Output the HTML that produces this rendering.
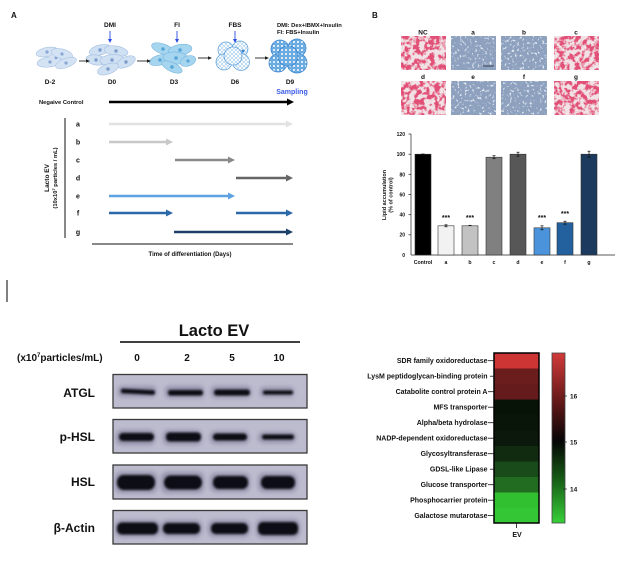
<!DOCTYPE html>
<html><head><meta charset="utf-8">
<style>
html,body{margin:0;padding:0;background:#fff;width:622px;height:574px;overflow:hidden}
svg{display:block}
text{font-family:"Liberation Sans",Arial,sans-serif;font-weight:bold;fill:#111}
</style></head>
<body>
<svg width="622" height="574" viewBox="0 0 622 574" xmlns="http://www.w3.org/2000/svg">
<defs>
  <filter id="redtex" x="0" y="0" width="1" height="1">
    <feTurbulence type="fractalNoise" baseFrequency="0.2" numOctaves="3" seed="4" result="n"/>
    <feColorMatrix in="n" type="matrix" values="0 0 0 0 0.76  0 0 0 0 0.08  0 0 0 0 0.18  6 0 0 0 -2.6"/>
    <feComposite in2="SourceGraphic" operator="in"/>
  </filter>
  <filter id="bluetex" x="0" y="0" width="1" height="1">
    <feTurbulence type="fractalNoise" baseFrequency="0.4" numOctaves="2" seed="9" result="n"/>
    <feColorMatrix in="n" type="matrix" values="0 0 0 0 0.9  0 0 0 0 0.92  0 0 0 0 0.97  5 0 0 0 -2.9"/>
    <feComposite in2="SourceGraphic" operator="in"/>
  </filter>
  <filter id="blur" x="-20%" y="-80%" width="140%" height="260%">
    <feGaussianBlur stdDeviation="1.1"/>
  </filter>
  <filter id="blur2" x="-20%" y="-80%" width="140%" height="260%">
    <feGaussianBlur stdDeviation="2.2"/>
  </filter>
  <pattern id="bub" width="4" height="4" patternUnits="userSpaceOnUse">
    <rect width="4" height="4" fill="#ffffff"/>
    <circle cx="2" cy="2" r="1.4" fill="#fff" stroke="#6aaae0" stroke-width="0.45"/>
  </pattern>
  <pattern id="bub2" width="4" height="4" patternUnits="userSpaceOnUse">
    <rect width="4" height="4" fill="#6aaee4"/>
    <circle cx="2" cy="2" r="1.35" fill="#f2f8fd" stroke="#4a92d6" stroke-width="0.4"/>
  </pattern>
  <linearGradient id="cbar" x1="0" y1="0" x2="0" y2="1">
    <stop offset="0" stop-color="#d23a3a"/>
    <stop offset="0.27" stop-color="#6a1a1a"/>
    <stop offset="0.52" stop-color="#050505"/>
    <stop offset="0.75" stop-color="#176017"/>
    <stop offset="1" stop-color="#38d038"/>
  </linearGradient>
</defs>

<!-- ================= PANEL A ================= -->
<text x="11" y="18" font-size="8">A</text>
<text x="110" y="27" font-size="6.5" text-anchor="middle">DMI</text>
<text x="177" y="27" font-size="6.5" text-anchor="middle">FI</text>
<text x="235" y="27" font-size="6.5" text-anchor="middle">FBS</text>
<text x="277" y="27" font-size="5.8">DMI: Dex+IBMX+Insulin</text>
<text x="277" y="34" font-size="5.8">FI: FBS+Insulin</text>
<g stroke="#2a4ae0" stroke-width="0.9" fill="#2a4ae0">
  <line x1="110" y1="31" x2="110" y2="40"/><polygon points="108,39 112,39 110,43" stroke="none"/>
  <line x1="177" y1="31" x2="177" y2="40"/><polygon points="175,39 179,39 177,43" stroke="none"/>
  <line x1="235" y1="31" x2="235" y2="40"/><polygon points="233,39 237,39 235,43" stroke="none"/>
</g>
<!-- D-2 cells -->
<g fill="#d3e3f4" stroke="#a9c3e2" stroke-width="0.6">
  <ellipse cx="47" cy="52" rx="11" ry="4.5" transform="rotate(-12 47 52)"/>
  <ellipse cx="62" cy="54" rx="11" ry="5" transform="rotate(15 62 54)"/>
  <ellipse cx="49" cy="62" rx="12" ry="5" transform="rotate(-8 49 62)"/>
  <ellipse cx="66" cy="63" rx="11" ry="4.5" transform="rotate(-20 66 63)"/>
</g>
<g fill="#8aa6d2"><circle cx="47" cy="52" r="1.6"/><circle cx="62" cy="54" r="1.6"/><circle cx="50" cy="62" r="1.6"/><circle cx="66" cy="63" r="1.6"/><circle cx="56" cy="58" r="1.4"/></g>
<!-- D0 cells -->
<g fill="#cfe0f3" stroke="#a3bfe0" stroke-width="0.6">
  <ellipse cx="100" cy="50" rx="11" ry="5" transform="rotate(-15 100 50)"/>
  <ellipse cx="116" cy="51" rx="12" ry="5" transform="rotate(10 116 51)"/>
  <ellipse cx="96" cy="60" rx="10" ry="5" transform="rotate(10 96 60)"/>
  <ellipse cx="112" cy="60" rx="12" ry="5.5" transform="rotate(-5 112 60)"/>
  <ellipse cx="126" cy="62" rx="10" ry="5" transform="rotate(-25 126 62)"/>
  <ellipse cx="108" cy="69" rx="11" ry="5" transform="rotate(-20 108 69)"/>
</g>
<g fill="#7e9ccc"><circle cx="100" cy="50" r="1.7"/><circle cx="116" cy="51" r="1.7"/><circle cx="96" cy="60" r="1.7"/><circle cx="112" cy="60" r="1.7"/><circle cx="126" cy="62" r="1.7"/><circle cx="108" cy="69" r="1.7"/></g>
<!-- D3 cells -->
<g fill="#a6d5ef" stroke="#78b6de" stroke-width="0.6">
  <ellipse cx="163" cy="49" rx="12" ry="5" transform="rotate(20 163 49)"/>
  <ellipse cx="180" cy="50" rx="12" ry="5.5" transform="rotate(-10 180 50)"/>
  <ellipse cx="160" cy="60" rx="11" ry="5" transform="rotate(-15 160 60)"/>
  <ellipse cx="176" cy="58" rx="13" ry="6" transform="rotate(5 176 58)"/>
  <ellipse cx="188" cy="61" rx="8" ry="5" transform="rotate(-20 188 61)"/>
  <ellipse cx="172" cy="67" rx="11" ry="4.5" transform="rotate(25 172 67)"/>
</g>
<g fill="#56a6d8"><circle cx="163" cy="49" r="1.8"/><circle cx="180" cy="50" r="1.8"/><circle cx="160" cy="60" r="1.8"/><circle cx="176" cy="58" r="1.8"/><circle cx="188" cy="61" r="1.6"/><circle cx="172" cy="67" r="1.8"/></g>
<!-- D6 -->
<g fill="url(#bub)" stroke="#5a9edc" stroke-width="0.7">
  <circle cx="226" cy="50" r="8"/><circle cx="240" cy="49" r="8"/><circle cx="224" cy="62" r="8"/>
  <circle cx="241" cy="62" r="8.5"/><circle cx="233" cy="56" r="9"/>
</g>
<circle cx="243" cy="51" r="1.5" fill="#3a86d0"/>
<!-- D9 -->
<g fill="url(#bub2)" stroke="#3a86d0" stroke-width="0.8">
  <circle cx="280" cy="49" r="9"/><circle cx="297" cy="48" r="9"/><circle cx="278" cy="63" r="9"/>
  <circle cx="297" cy="63" r="10"/><circle cx="288" cy="56" r="10"/>
</g>
<!-- small black arrows -->
<g stroke="#222" stroke-width="0.9" fill="#222">
  <line x1="79" y1="61" x2="87" y2="61"/><polygon points="86,59.3 90,61 86,62.7" stroke="none"/>
  <line x1="137" y1="61" x2="148" y2="61"/><polygon points="147,59.3 151,61 147,62.7" stroke="none"/>
  <line x1="198" y1="58" x2="209" y2="58"/><polygon points="208,56.3 212,58 208,59.7" stroke="none"/>
  <line x1="255" y1="58" x2="266" y2="58"/><polygon points="265,56.3 269,58 265,59.7" stroke="none"/>
</g>
<text x="50" y="84" font-size="6.5" text-anchor="middle">D-2</text>
<text x="112" y="84" font-size="6.5" text-anchor="middle">D0</text>
<text x="174" y="84" font-size="6.5" text-anchor="middle">D3</text>
<text x="235" y="84" font-size="6.5" text-anchor="middle">D6</text>
<text x="290" y="84" font-size="6.5" text-anchor="middle">D9</text>
<text x="292" y="94" font-size="7" text-anchor="middle" style="fill:#3a5ae8">Sampling</text>

<text x="39" y="104" font-size="5.8">Negaive Control</text>
<line x1="109" y1="102" x2="288" y2="102" stroke="#000" stroke-width="2.4"/>
<polygon points="287,98.5 294,102 287,105.5" fill="#000"/>

<line x1="65" y1="118" x2="65" y2="238" stroke="#111" stroke-width="1"/>
<text transform="translate(49,178) rotate(-90)" font-size="6.5" text-anchor="middle">Lacto EV</text>
<text transform="translate(57,178) rotate(-90)" font-size="5.8" text-anchor="middle">(10x10<tspan font-size="4" dy="-2">7</tspan><tspan dy="2"> particles / mL)</tspan></text>

<g font-size="7" text-anchor="middle">
  <text x="78" y="126.5">a</text><text x="78" y="144.5">b</text><text x="78" y="162.5">c</text>
  <text x="78" y="180.5">d</text><text x="78" y="198.5">e</text><text x="78" y="215.5">f</text><text x="78" y="234.5">g</text>
</g>
<g stroke-width="2.4">
  <line x1="109" y1="124" x2="287" y2="124" stroke="#e2e2e2"/>
  <line x1="109" y1="142" x2="167" y2="142" stroke="#c8c8c8"/>
  <line x1="175" y1="160" x2="229" y2="160" stroke="#8a8a8a"/>
  <line x1="236" y1="178" x2="287" y2="178" stroke="#666"/>
  <line x1="109" y1="196" x2="229" y2="196" stroke="#5ea2e2"/>
  <line x1="109" y1="213" x2="167" y2="213" stroke="#2a68a8"/>
  <line x1="236" y1="213" x2="287" y2="213" stroke="#2a68a8"/>
  <line x1="174" y1="232" x2="287" y2="232" stroke="#1c4068"/>
</g>
<polygon points="286,120.5 293,124 286,127.5" fill="#e2e2e2"/>
<polygon points="166,138.5 173,142 166,145.5" fill="#c8c8c8"/>
<polygon points="228,156.5 235,160 228,163.5" fill="#8a8a8a"/>
<polygon points="286,174.5 293,178 286,181.5" fill="#666"/>
<polygon points="228,192.5 235,196 228,199.5" fill="#5ea2e2"/>
<polygon points="166,209.5 173,213 166,216.5" fill="#2a68a8"/>
<polygon points="286,209.5 293,213 286,216.5" fill="#2a68a8"/>
<polygon points="286,228.5 293,232 286,235.5" fill="#1c4068"/>

<line x1="92" y1="244" x2="293" y2="244" stroke="#111" stroke-width="1"/>
<text x="190" y="256" font-size="6" text-anchor="middle">Time of differentiation (Days)</text>

<!-- ================= PANEL B ================= -->
<text x="372" y="18" font-size="8">B</text>
<g font-size="6.5" text-anchor="middle">
  <text x="423" y="34.5">NC</text><text x="473" y="34.5">a</text><text x="524" y="34.5">b</text><text x="576" y="34.5">c</text>
  <text x="423" y="79">d</text><text x="473" y="79">e</text><text x="524" y="79">f</text><text x="576" y="79">g</text>
</g>
<!-- red images -->
<g>
  <rect x="401" y="36" width="45" height="34" fill="#f0e2e5"/><rect x="401" y="36" width="45" height="34" fill="#000" filter="url(#redtex)"/>
  <rect x="554" y="36" width="45" height="34" fill="#f0e2e5"/><rect x="554" y="36" width="45" height="34" fill="#000" filter="url(#redtex)"/>
  <rect x="401" y="81" width="45" height="34" fill="#f0e2e5"/><rect x="401" y="81" width="45" height="34" fill="#000" filter="url(#redtex)"/>
  <rect x="554" y="81" width="45" height="34" fill="#f0e2e5"/><rect x="554" y="81" width="45" height="34" fill="#000" filter="url(#redtex)"/>
</g>
<!-- blue images -->
<g>
  <rect x="451" y="36" width="45" height="34" fill="#8da1bf"/><rect x="451" y="36" width="45" height="34" fill="#000" filter="url(#bluetex)"/>
  <rect x="501" y="36" width="46" height="34" fill="#8da1bf"/><rect x="501" y="36" width="46" height="34" fill="#000" filter="url(#bluetex)"/>
  <rect x="451" y="81" width="45" height="34" fill="#8da1bf"/><rect x="451" y="81" width="45" height="34" fill="#000" filter="url(#bluetex)"/>
  <rect x="501" y="81" width="46" height="34" fill="#8da1bf"/><rect x="501" y="81" width="46" height="34" fill="#000" filter="url(#bluetex)"/>
  <line x1="483" y1="66" x2="494" y2="66" stroke="#223" stroke-width="0.8"/>
</g>

<!-- bar chart -->
<g font-size="5" text-anchor="end" font-weight="normal">
  <text x="405" y="136">120</text><text x="405" y="156">100</text><text x="405" y="176.5">80</text>
  <text x="405" y="196.5">60</text><text x="405" y="216.5">40</text><text x="405" y="236.5">20</text><text x="405" y="257">0</text>
</g>
<g stroke="#222" stroke-width="0.7">
  <line x1="411" y1="134" x2="411" y2="255"/>
  <line x1="411" y1="255" x2="615" y2="255"/>
  <line x1="408.5" y1="134" x2="411" y2="134"/><line x1="408.5" y1="154.2" x2="411" y2="154.2"/>
  <line x1="408.5" y1="174.3" x2="411" y2="174.3"/><line x1="408.5" y1="194.5" x2="411" y2="194.5"/>
  <line x1="408.5" y1="214.7" x2="411" y2="214.7"/><line x1="408.5" y1="234.8" x2="411" y2="234.8"/>
</g>
<text transform="translate(386,195) rotate(-90)" font-size="5.5" text-anchor="middle">Lipid accumulation</text>
<text transform="translate(392.5,195) rotate(-90)" font-size="5.5" text-anchor="middle">(% of control)</text>
<g stroke="#333" stroke-width="0.6">
  <rect x="415" y="154.2" width="16" height="100.8" fill="#000"/>
  <rect x="438" y="225.8" width="16" height="29.2" fill="#f2f2f2"/>
  <rect x="462" y="225.8" width="16" height="29.2" fill="#c2c2c2"/>
  <rect x="486" y="157.2" width="16" height="97.8" fill="#808080"/>
  <rect x="510" y="154.2" width="16" height="100.8" fill="#575757"/>
  <rect x="534" y="227.8" width="16" height="27.2" fill="#4b93da"/>
  <rect x="557" y="222.7" width="16" height="32.3" fill="#22609e"/>
  <rect x="581" y="154.2" width="16" height="100.8" fill="#1b3a5e"/>
</g>
<g stroke="#111" stroke-width="0.7">
  <line x1="446" y1="224.8" x2="446" y2="226.8"/><line x1="444.5" y1="224.8" x2="447.5" y2="224.8"/><line x1="444.5" y1="226.8" x2="447.5" y2="226.8"/>
  <line x1="468.5" y1="225.3" x2="471.5" y2="225.3"/>
  <line x1="494" y1="155.7" x2="494" y2="158.7"/><line x1="492.5" y1="155.7" x2="495.5" y2="155.7"/><line x1="492.5" y1="158.7" x2="495.5" y2="158.7"/>
  <line x1="518" y1="152.2" x2="518" y2="156.2"/><line x1="516.5" y1="152.2" x2="519.5" y2="152.2"/><line x1="516.5" y1="156.2" x2="519.5" y2="156.2"/>
  <line x1="542" y1="225.8" x2="542" y2="229.8"/><line x1="540.5" y1="225.8" x2="543.5" y2="225.8"/><line x1="540.5" y1="229.8" x2="543.5" y2="229.8"/>
  <line x1="565" y1="221.2" x2="565" y2="224.2"/><line x1="563.5" y1="221.2" x2="566.5" y2="221.2"/><line x1="563.5" y1="224.2" x2="566.5" y2="224.2"/>
  <line x1="589" y1="151.2" x2="589" y2="157.2"/><line x1="587.5" y1="151.2" x2="590.5" y2="151.2"/><line x1="587.5" y1="157.2" x2="590.5" y2="157.2"/>
  <line x1="421.5" y1="154" x2="424.5" y2="154"/>
</g>
<g font-size="7" text-anchor="middle" font-weight="normal" style="fill:#222">
  <text x="446" y="220">***</text><text x="470" y="220">***</text>
  <text x="542" y="220">***</text><text x="565" y="216">***</text>
</g>
<g font-size="5.2" text-anchor="middle" font-weight="normal">
  <text x="423" y="264">Control</text><text x="446" y="264">a</text><text x="470" y="264">b</text>
  <text x="494" y="264">c</text><text x="518" y="264">d</text><text x="542" y="264">e</text>
  <text x="565" y="264">f</text><text x="589" y="264">g</text>
</g>

<!-- ================= WESTERN BLOT ================= -->
<line x1="7" y1="280" x2="7" y2="302" stroke="#000" stroke-width="1"/>
<text x="214" y="336" font-size="16.5" text-anchor="middle">Lacto EV</text>
<line x1="120" y1="342" x2="300" y2="342" stroke="#000" stroke-width="1.6"/>
<text x="17" y="361" font-size="10">(x10<tspan font-size="6" dy="-4">7</tspan><tspan dy="4">particles/mL)</tspan></text>
<g font-size="10" text-anchor="middle">
  <text x="137" y="361">0</text><text x="187" y="361">2</text><text x="232" y="361">5</text><text x="279" y="361">10</text>
</g>
<g font-size="12" text-anchor="end">
  <text x="95" y="397">ATGL</text>
  <text x="95" y="441">p-HSL</text>
  <text x="95" y="486">HSL</text>
  <text x="95" y="532">β-Actin</text>
</g>
<g fill="#bdbccf" stroke="#3a3a3a" stroke-width="1.3">
  <rect x="113" y="374.5" width="194" height="33.5"/>
  <rect x="113" y="419.5" width="194" height="33.5"/>
  <rect x="113" y="465" width="194" height="34"/>
  <rect x="113" y="510.5" width="194" height="33.5"/>
</g>
<!-- halos -->
<g fill="#85839e" filter="url(#blur2)" opacity="0.75">
  <rect x="118" y="386" width="38" height="11" rx="4"/><rect x="165" y="386" width="39" height="12" rx="4"/>
  <rect x="211" y="386" width="40" height="12" rx="4"/><rect x="260" y="387" width="34" height="10" rx="4"/>
  <rect x="116" y="430" width="39" height="15" rx="5"/><rect x="163" y="430" width="39" height="15" rx="5"/>
  <rect x="210" y="431" width="39" height="13" rx="5"/><rect x="258" y="432" width="38" height="11" rx="5"/>
  <rect x="115" y="472" width="42" height="21" rx="6"/><rect x="161" y="472" width="43" height="21" rx="6"/>
  <rect x="210" y="473" width="40" height="19" rx="6"/><rect x="258" y="473" width="39" height="19" rx="6"/>
  <rect x="115" y="520" width="45" height="17" rx="6"/><rect x="161" y="520" width="41" height="17" rx="6"/>
  <rect x="208" y="520" width="42" height="17" rx="6"/><rect x="256" y="519" width="44" height="19" rx="6"/>
</g>
<g fill="#0a0a14" filter="url(#blur)">
  <rect x="121" y="389.5" width="34" height="4.5" rx="2" transform="rotate(3 138 391)"/>
  <rect x="168" y="390" width="35" height="5.5" rx="2.5"/>
  <rect x="214" y="389.5" width="36" height="6" rx="3"/>
  <rect x="263" y="390.5" width="30" height="4" rx="2"/>
  <rect x="119" y="433" width="35" height="8" rx="4"/>
  <rect x="166" y="432.5" width="35" height="9" rx="4"/>
  <rect x="213" y="433.5" width="34" height="7" rx="3.5"/>
  <rect x="262" y="434.5" width="32" height="5" rx="2.5"/>
  <rect x="117" y="475" width="38" height="15" rx="7"/>
  <rect x="164" y="475.5" width="38" height="14" rx="7"/>
  <rect x="213" y="476" width="35" height="13" rx="6"/>
  <rect x="261" y="476" width="34" height="13" rx="6"/>
  <rect x="117" y="522.5" width="41" height="12" rx="5"/>
  <rect x="163" y="523" width="37" height="11" rx="5"/>
  <rect x="211" y="523" width="37" height="11" rx="5"/>
  <rect x="258" y="522" width="40" height="13" rx="5"/>
</g>

<!-- ================= HEATMAP ================= -->
<g>
  <rect x="494" y="353" width="45" height="15.5" fill="#cd3434"/>
  <rect x="494" y="368.5" width="45" height="15.5" fill="#6b1d1d"/>
  <rect x="494" y="384" width="45" height="15.5" fill="#651b1b"/>
  <rect x="494" y="399.5" width="45" height="15.5" fill="#071307"/>
  <rect x="494" y="415" width="45" height="15.5" fill="#091509"/>
  <rect x="494" y="430.5" width="45" height="15.5" fill="#0b180b"/>
  <rect x="494" y="446" width="45" height="15.5" fill="#102b10"/>
  <rect x="494" y="461.5" width="45" height="15.5" fill="#194a19"/>
  <rect x="494" y="477" width="45" height="15.5" fill="#216c21"/>
  <rect x="494" y="492.5" width="45" height="15.5" fill="#30c030"/>
  <rect x="494" y="508" width="45" height="15" fill="#34c634"/>
  <rect x="494" y="353" width="45" height="170" fill="none" stroke="#000" stroke-width="1.5"/>
</g>
<g stroke="#111" stroke-width="0.8">
  <line x1="488" y1="360.7" x2="494" y2="360.7"/><line x1="490" y1="376.2" x2="494" y2="376.2"/>
  <line x1="488" y1="391.7" x2="494" y2="391.7"/><line x1="488" y1="407.2" x2="494" y2="407.2"/>
  <line x1="488" y1="422.7" x2="494" y2="422.7"/><line x1="488" y1="438.2" x2="494" y2="438.2"/>
  <line x1="488" y1="453.7" x2="494" y2="453.7"/><line x1="490" y1="469.2" x2="494" y2="469.2"/>
  <line x1="488" y1="484.7" x2="494" y2="484.7"/><line x1="488" y1="500.2" x2="494" y2="500.2"/>
  <line x1="488" y1="515.5" x2="494" y2="515.5"/>
  <line x1="516.5" y1="523" x2="516.5" y2="528"/>
</g>
<g font-size="7" text-anchor="end">
  <text x="487.5" y="363">SDR family oxidoreductase</text>
  <text x="487.5" y="378.5">LysM peptidoglycan-binding protein</text>
  <text x="487.5" y="394">Catabolite control protein A</text>
  <text x="487.5" y="409.5">MFS transporter</text>
  <text x="487.5" y="425">Alpha/beta hydrolase</text>
  <text x="487.5" y="440.5">NADP-dependent oxidoreductase</text>
  <text x="487.5" y="456">Glycosyltransferase</text>
  <text x="487.5" y="471.5">GDSL-like Lipase</text>
  <text x="487.5" y="487">Glucose transporter</text>
  <text x="487.5" y="502.5">Phosphocarrier protein</text>
  <text x="487.5" y="518">Galactose mutarotase</text>
</g>
<text x="517" y="537" font-size="7" text-anchor="middle">EV</text>
<rect x="552" y="353" width="13" height="170" fill="url(#cbar)" stroke="#444" stroke-width="0.8"/>
<g stroke="#222" stroke-width="0.7">
  <line x1="563" y1="396" x2="567" y2="396"/><line x1="563" y1="442" x2="567" y2="442"/><line x1="563" y1="489" x2="567" y2="489"/>
</g>
<g font-size="6.5" font-weight="normal">
  <text x="570" y="398.5">16</text><text x="570" y="444.5">15</text><text x="570" y="491.5">14</text>
</g>
</svg>
</body></html>
